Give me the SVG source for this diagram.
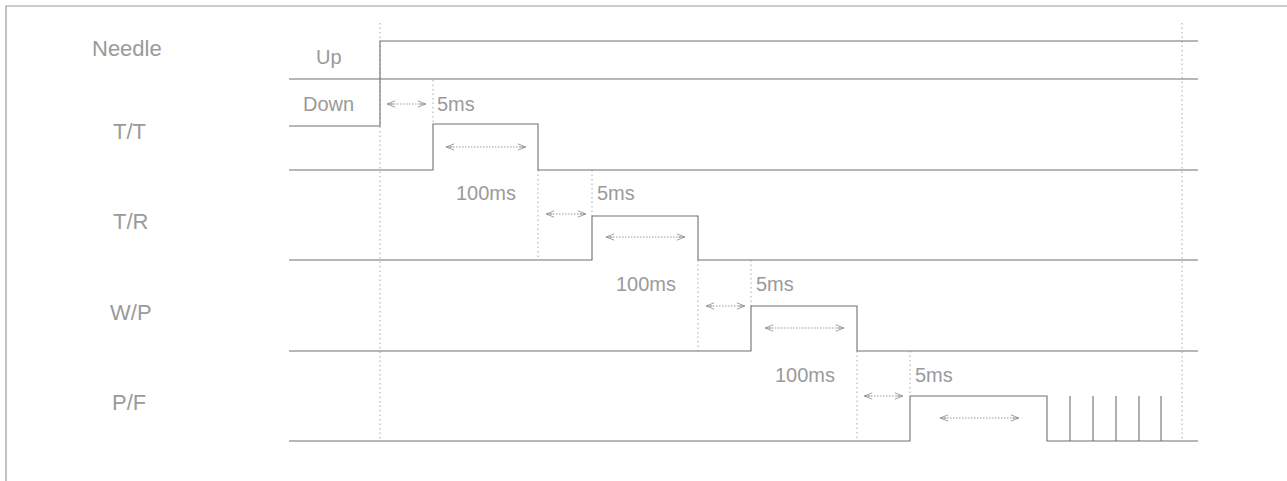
<svg xmlns="http://www.w3.org/2000/svg" width="1287" height="481" viewBox="0 0 1287 481">
<defs>
<style>
.frame{stroke:#9a9a9a;stroke-width:1.2;fill:none}
.sig{stroke:#707070;stroke-width:1.1;fill:none}
.dot{stroke:#a8a8a8;stroke-width:1;stroke-dasharray:1.5 3;fill:none}
.arr{stroke:#9a9a9a;stroke-width:1;stroke-dasharray:1.5 1.5;fill:none;marker-start:url(#ah);marker-end:url(#ah)}
.lbl{font-family:"Liberation Sans",Arial,sans-serif;font-size:22px;fill:#9a9a9a}
.sm{font-family:"Liberation Sans",Arial,sans-serif;font-size:20px;fill:#9a9a9a}
</style>
<marker id="ah" viewBox="0 0 10 10" refX="9" refY="5" markerWidth="10" markerHeight="8" markerUnits="userSpaceOnUse" orient="auto-start-reverse">
<path d="M0,1 L10,5 L0,9 M2,5 L10,5" fill="none" stroke="#8a8a8a" stroke-width="1"/>
</marker>
</defs>
<rect width="1287" height="481" fill="#ffffff"/>
<g id="frame">
<path class="frame" d="M6,481 V6 H1287"/>
</g>
<g id="connectors">
<line class="dot" x1="380" y1="23" x2="380" y2="441"/>
<line class="dot" x1="1182" y1="23" x2="1182" y2="441"/>
<line class="dot" x1="433" y1="80" x2="433" y2="124"/>
<line class="dot" x1="538" y1="170" x2="538" y2="260"/>
<line class="dot" x1="592" y1="170" x2="592" y2="216"/>
<line class="dot" x1="698" y1="260" x2="698" y2="351"/>
<line class="dot" x1="751" y1="260" x2="751" y2="306"/>
<line class="dot" x1="857" y1="351" x2="857" y2="441"/>
<line class="dot" x1="910" y1="351" x2="910" y2="396"/>
<line class="arr" x1="388" y1="104" x2="425" y2="104"/>
<line class="arr" x1="547" y1="214" x2="585" y2="214"/>
<line class="arr" x1="707" y1="306" x2="744" y2="306"/>
<line class="arr" x1="865" y1="396" x2="902" y2="396"/>
<line class="arr" x1="447" y1="147" x2="525" y2="147"/>
<line class="arr" x1="607" y1="237" x2="684" y2="237"/>
<line class="arr" x1="766" y1="328" x2="843" y2="328"/>
<line class="arr" x1="941" y1="418" x2="1018" y2="418"/>
</g>
<g id="needle">
<text class="lbl" x="92" y="56">Needle</text>
<text class="sm" x="316" y="64">Up</text>
<text class="sm" x="303" y="111">Down</text>
<path class="sig" d="M289,126 H380 V41 H1198"/>
<line class="sig" x1="289" y1="79" x2="1198" y2="79"/>
</g>
<g id="tt">
<text class="lbl" x="113" y="139">T/T</text>
<text class="sm" x="437" y="111">5ms</text>
<path class="sig" d="M289,170 H433 V124 H538 V170 H1198"/>
</g>
<g id="tr">
<text class="lbl" x="113" y="229">T/R</text>
<text class="sm" x="456" y="200">100ms</text>
<text class="sm" x="597" y="200">5ms</text>
<path class="sig" d="M289,260 H592 V216 H698 V260 H1198"/>
</g>
<g id="wp">
<text class="lbl" x="110" y="320">W/P</text>
<text class="sm" x="616" y="291">100ms</text>
<text class="sm" x="756" y="291">5ms</text>
<path class="sig" d="M289,351 H751 V306 H857 V351 H1198"/>
</g>
<g id="pf">
<text class="lbl" x="112" y="410">P/F</text>
<text class="sm" x="775" y="382">100ms</text>
<text class="sm" x="915" y="382">5ms</text>
<path class="sig" d="M289,441 H910 V396 H1047 V441 H1198"/>
<path class="sig" d="M1070,396 V441 M1093,396 V441 M1116,396 V441 M1139,396 V441 M1161,396 V441"/>
</g>
</svg>
